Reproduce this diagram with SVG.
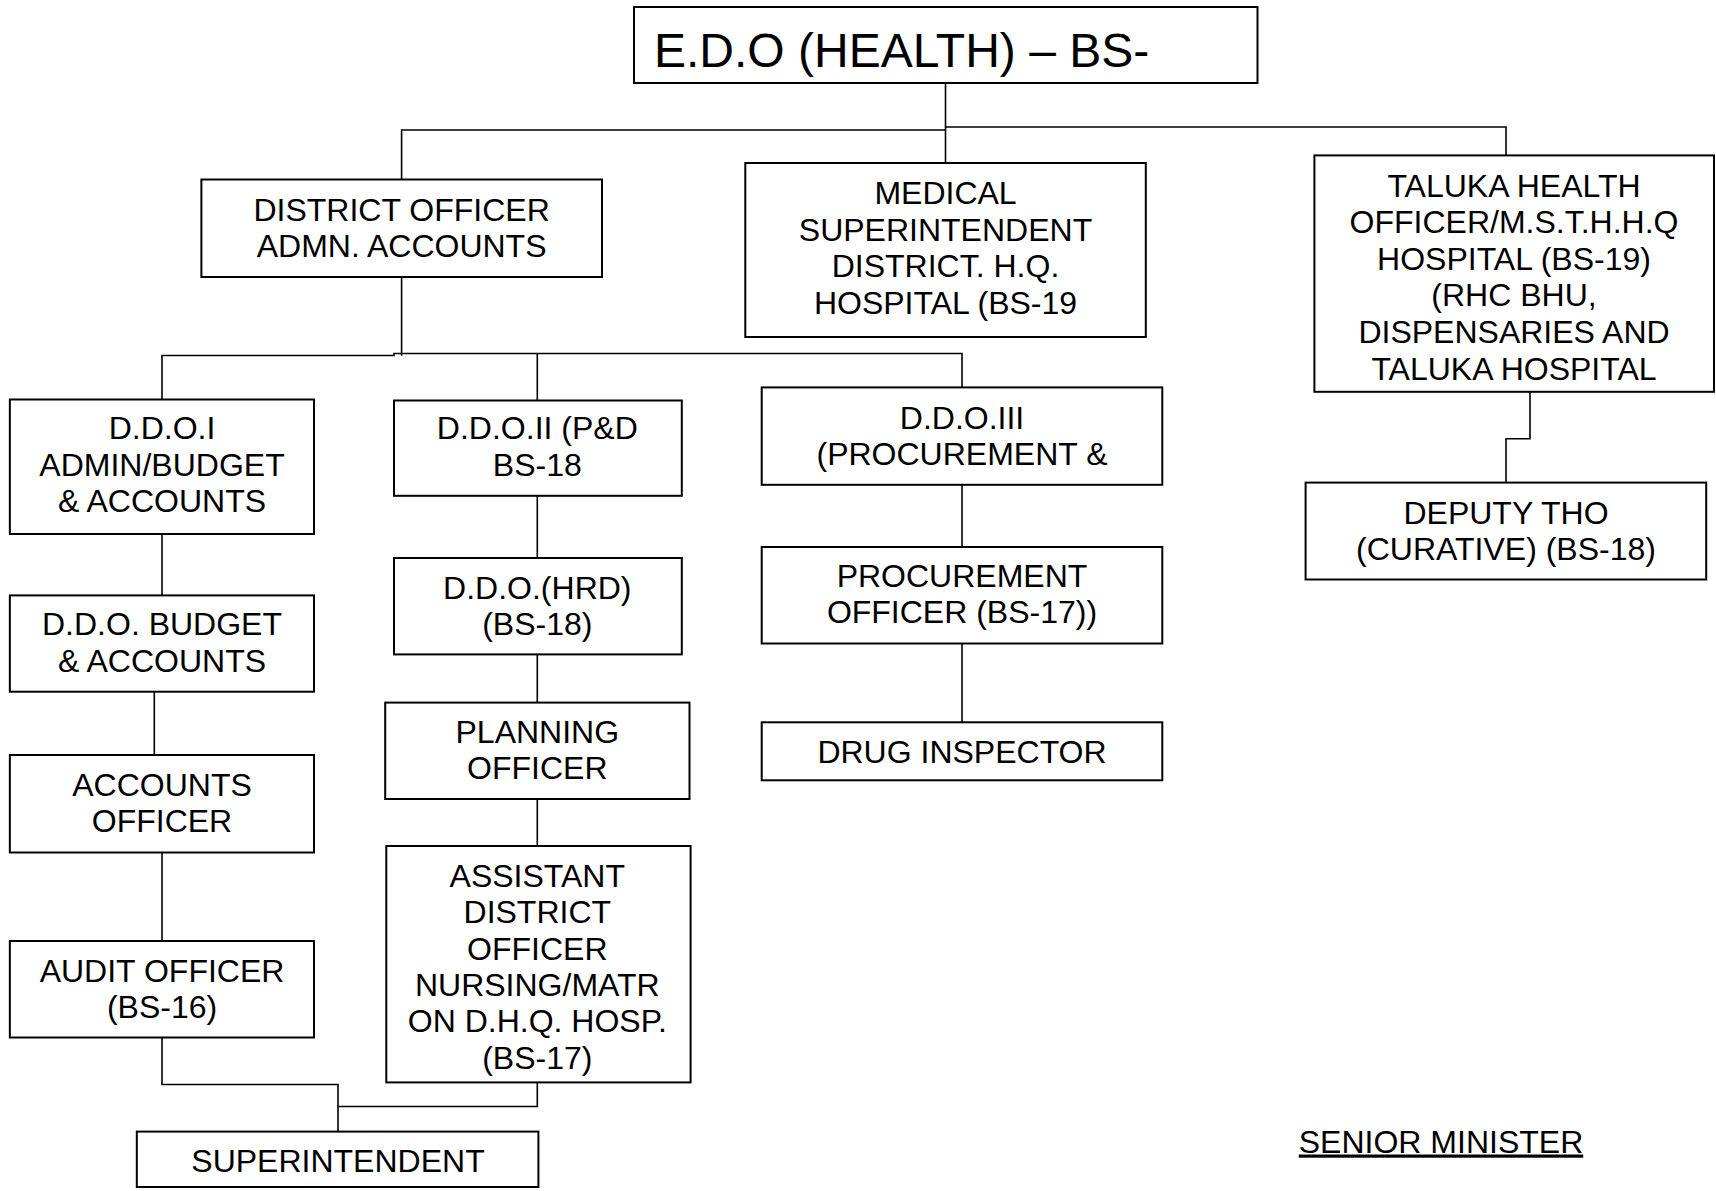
<svg xmlns="http://www.w3.org/2000/svg" width="1716" height="1191" viewBox="0 0 1716 1191">
<style>
.box{fill:#fff;stroke:#000;stroke-width:2}
.t{font-family:"Liberation Sans",Arial,sans-serif;font-size:32px;fill:#000;text-anchor:middle}
.big{font-family:"Liberation Sans",Arial,sans-serif;font-size:48px;fill:#000}
.c{fill:none;stroke:#000;stroke-width:1.6}
</style>
<rect width="1716" height="1191" fill="#fff"/>
<g id="connectors">
<polyline class="c" points="945.5,83 945.5,163"/>
<polyline class="c" points="945.5,130 401.6,130 401.6,179.5"/>
<polyline class="c" points="945.5,127 1506,127 1506,155.4"/>
<polyline class="c" points="401.6,277 401.6,355.7"/>
<polyline class="c" points="162,399.5 162,355.5 394,355.5 394,353.5 962,353.5 962,387.4"/>
<polyline class="c" points="537.3,354 537.3,400.5"/>
<polyline class="c" points="162,534 162,595.4"/>
<polyline class="c" points="154.3,691.7 154.3,755"/>
<polyline class="c" points="162,852.5 162,941"/>
<polyline class="c" points="162,1037.5 162,1084.5 338,1084.5 338,1131.6"/>
<polyline class="c" points="537.3,495.8 537.3,558"/>
<polyline class="c" points="537.3,654.4 537.3,702.6"/>
<polyline class="c" points="537.3,799 537.3,846"/>
<polyline class="c" points="537.3,1082.4 537.3,1106.5 338,1106.5"/>
<polyline class="c" points="962,484.8 962,547"/>
<polyline class="c" points="962,643.5 962,722.3"/>
<polyline class="c" points="1530,391.8 1530,438.8 1506,438.8 1506,482.6"/>
</g>
<g id="edo">
<rect class="box" x="634" y="7" width="623.5" height="76"/>
<text class="big" x="654" y="67">E.D.O (HEALTH) – BS-</text>
</g>
<g id="district-officer">
<rect class="box" x="201.4" y="179.5" width="400.6" height="97.5"/>
<text class="t" x="401.6" y="220.5">DISTRICT OFFICER</text>
<text class="t" x="401.6" y="256.5">ADMN. ACCOUNTS</text>
</g>
<g id="medical-superintendent">
<rect class="box" x="745.3" y="163" width="400.5" height="174"/>
<text class="t" x="945.5" y="204">MEDICAL</text>
<text class="t" x="945.5" y="240.6">SUPERINTENDENT</text>
<text class="t" x="945.5" y="277.2">DISTRICT. H.Q.</text>
<text class="t" x="945.5" y="313.8">HOSPITAL (BS-19</text>
</g>
<g id="taluka">
<rect class="box" x="1314.4" y="155.4" width="399.6" height="236.4"/>
<text class="t" x="1514" y="196.5">TALUKA HEALTH</text>
<text class="t" x="1514" y="233.1">OFFICER/M.S.T.H.H.Q</text>
<text class="t" x="1514" y="269.7">HOSPITAL (BS-19)</text>
<text class="t" x="1514" y="306.3">(RHC BHU,</text>
<text class="t" x="1514" y="342.9">DISPENSARIES AND</text>
<text class="t" x="1514" y="379.5">TALUKA HOSPITAL</text>
</g>
<g id="deputy-tho">
<rect class="box" x="1305.6" y="482.6" width="400.6" height="96.9"/>
<text class="t" x="1506" y="523.5">DEPUTY THO</text>
<text class="t" x="1506" y="559.6">(CURATIVE) (BS-18)</text>
</g>
<g id="ddo1">
<rect class="box" x="9.85" y="399.5" width="304.15" height="134.5"/>
<text class="t" x="162" y="439.4">D.D.O.I</text>
<text class="t" x="162" y="475.5">ADMIN/BUDGET</text>
<text class="t" x="162" y="511.6">&amp; ACCOUNTS</text>
</g>
<g id="ddo-budget">
<rect class="box" x="9.85" y="595.4" width="304.15" height="96.3"/>
<text class="t" x="162" y="635.3">D.D.O. BUDGET</text>
<text class="t" x="162" y="671.5">&amp; ACCOUNTS</text>
</g>
<g id="accounts-officer">
<rect class="box" x="9.85" y="755" width="304.15" height="97.5"/>
<text class="t" x="162" y="796">ACCOUNTS</text>
<text class="t" x="162" y="832.3">OFFICER</text>
</g>
<g id="audit-officer">
<rect class="box" x="9.85" y="941" width="304.15" height="96.5"/>
<text class="t" x="162" y="982">AUDIT OFFICER</text>
<text class="t" x="162" y="1018.3">(BS-16)</text>
</g>
<g id="superintendent">
<rect class="box" x="136.8" y="1131.6" width="401.6" height="55.4"/>
<text class="t" x="338" y="1171.5">SUPERINTENDENT</text>
</g>
<g id="ddo2">
<rect class="box" x="394" y="400.5" width="287.8" height="95.3"/>
<text class="t" x="537.3" y="439.4">D.D.O.II (P&amp;D</text>
<text class="t" x="537.3" y="475.5">BS-18</text>
</g>
<g id="ddo-hrd">
<rect class="box" x="394" y="558" width="287.8" height="96.4"/>
<text class="t" x="537.3" y="599">D.D.O.(HRD)</text>
<text class="t" x="537.3" y="635">(BS-18)</text>
</g>
<g id="planning-officer">
<rect class="box" x="385.2" y="702.6" width="304.3" height="96.4"/>
<text class="t" x="537.3" y="742.5">PLANNING</text>
<text class="t" x="537.3" y="778.6">OFFICER</text>
</g>
<g id="assistant-district-officer">
<rect class="box" x="386.3" y="846" width="304.3" height="236.4"/>
<text class="t" x="537.3" y="887">ASSISTANT</text>
<text class="t" x="537.3" y="923.3">DISTRICT</text>
<text class="t" x="537.3" y="959.6">OFFICER</text>
<text class="t" x="537.3" y="996">NURSING/MATR</text>
<text class="t" x="537.3" y="1032">ON D.H.Q. HOSP.</text>
<text class="t" x="537.3" y="1068.5">(BS-17)</text>
</g>
<g id="ddo3">
<rect class="box" x="761.7" y="387.4" width="400.6" height="97.4"/>
<text class="t" x="962" y="428.5">D.D.O.III</text>
<text class="t" x="962" y="464.6">(PROCUREMENT &amp;</text>
</g>
<g id="procurement-officer">
<rect class="box" x="761.7" y="547" width="400.6" height="96.5"/>
<text class="t" x="962" y="587">PROCUREMENT</text>
<text class="t" x="962" y="623">OFFICER (BS-17))</text>
</g>
<g id="drug-inspector">
<rect class="box" x="761.7" y="722.3" width="400.6" height="58"/>
<text class="t" x="962" y="763">DRUG INSPECTOR</text>
</g>
<g id="senior-minister">
<text class="t" x="1441" y="1152.5" text-decoration="underline">SENIOR MINISTER</text>
</g>
</svg>
